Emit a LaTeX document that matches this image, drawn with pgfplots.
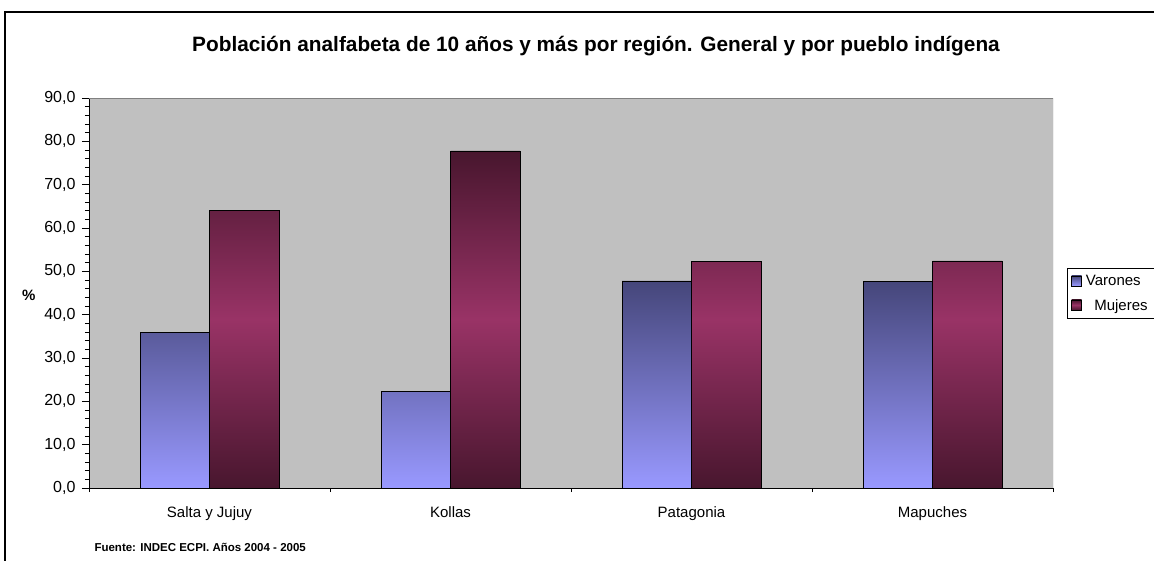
\documentclass[border=0pt]{standalone}
\usepackage{pgfplots}
\pgfplotsset{compat=1.18}
\usepackage{fontspec}
\setmainfont{Liberation Sans}
\definecolor{plotbg}{HTML}{C0C0C0}
\definecolor{vtop}{HTML}{45467A}
\definecolor{vbot}{HTML}{9999FF}
\definecolor{mdark}{HTML}{48162E}
\definecolor{mmid}{HTML}{993366}
\definecolor{vleg}{HTML}{8080D8}
\begin{document}
\begin{tikzpicture}[x=1pt,y=1pt]
\useasboundingbox (0,0) rectangle (1154,560);
\draw[line width=1.2pt] (5,-2) -- (5,548) -- (1160,548);
\node[font=\fontsize{20.8}{24}\selectfont\bfseries] at (596,514) {Población analfabeta de 10 años y más por región. General y por pueblo indígena};
\node[font=\fontsize{11.5}{14}\selectfont\bfseries, anchor=west] at (91,13) {Fuente: INDEC ECPI. Años 2004 - 2005};
\begin{axis}[
  at={(89pt,72pt)}, anchor=south west,
  scale only axis, width=964pt, height=390pt,
  xmin=-0.5, xmax=3.5, ymin=0, ymax=90,
  axis lines=left, axis line style={-, black, line width=0.8pt},
  axis background/.style={fill=plotbg},
  xtick={0,1,2,3},
  xticklabels={Salta y Jujuy, Kollas, Patagonia, Mapuches},
  major x tick style={draw=none},
  minor xtick={-0.5,0.5,1.5,2.5,3.5},
  minor x tick style={black, line width=0.6pt},
  ytick={0,10,...,90},
  minor y tick num=4,
  tick align=outside,
  major tick length=7pt,
  minor tick length=4pt,
  tick style={black, line width=0.6pt},
  xticklabel style={font=\fontsize{15}{18}\selectfont, yshift=-8pt},
  yticklabel style={font=\fontsize{16}{19}\selectfont, xshift=-3pt},
  /pgf/number format/.cd, fixed, fixed zerofill, precision=1, use comma, assume math mode=true,
  /pgfplots/.cd,
  ylabel={\textbf{\%}},
  ylabel style={rotate=-90, font=\fontsize{15}{18}\selectfont, at={(rel axis cs:0,0.495)}, xshift=-50pt},
  legend style={at={(rel axis cs:1.0145,0.564)}, anchor=north west, draw=black, line width=0.8pt,
    font=\fontsize{15}{18}\selectfont, row sep=8pt, inner xsep=4pt, inner ysep=5pt, fill=white,
    nodes={inner xsep=4pt}},
  legend cell align=left,
]
\draw[gray, line width=0.8pt] (rel axis cs:0,1) -- (rel axis cs:1,1) -- (rel axis cs:1,0);
\addplot[ybar, bar width=0.288, bar shift=-0.144, draw=black, line width=0.7pt,
  top color=vtop, bottom color=vbot,
  legend image code/.code={\draw[fill=vleg, draw=black, line width=0.6pt] (0pt,-4.5pt) rectangle (10pt,5.5pt);}]
  coordinates {(0,36.0) (1,22.2) (2,47.8) (3,47.6)};
\addlegendentry{Varones}
\addplot[ybar, bar width=0.288, bar shift=0.144, draw=black, line width=0.7pt,
  top color=mdark, bottom color=mdark, middle color=mmid,
  legend image code/.code={\draw[fill=mmid, draw=black, line width=0.6pt] (0pt,-4.5pt) rectangle (10pt,5.5pt);}]
  coordinates {(0,64.0) (1,77.8) (2,52.2) (3,52.4)};
\addlegendentry{\ \ Mujeres}
\end{axis}
\end{tikzpicture}
\end{document}
